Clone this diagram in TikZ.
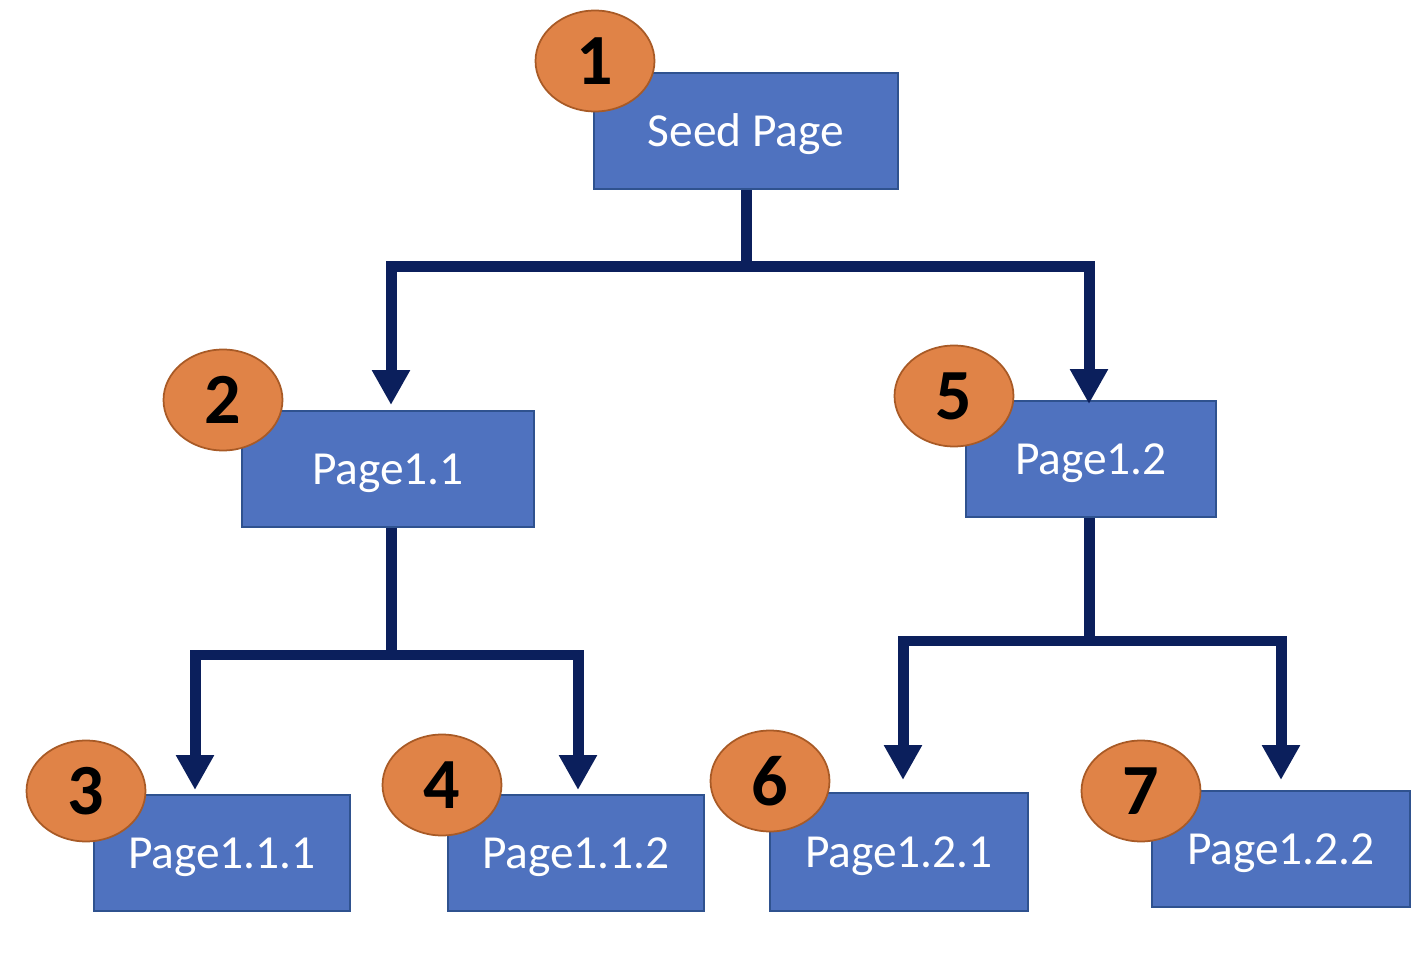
\documentclass[tikz,border=0pt]{standalone}
\usepackage{fontspec}
\setmainfont{Carlito}
\usetikzlibrary{arrows.meta,shapes.geometric}
\definecolor{boxblue}{HTML}{4F72BF}
\definecolor{boxedge}{HTML}{2F528F}
\definecolor{badgefill}{HTML}{E08347}
\definecolor{badgeedge}{HTML}{A85A26}
\definecolor{linknavy}{HTML}{0B1F5C}
\tikzset{
  pagebox/.style={draw=boxedge, fill=boxblue, line width=1.1pt, text=white,
    minimum height=2.32cm, inner sep=0pt, text height=0.8cm, text depth=0.19cm,
    font=\fontsize{27}{30}\selectfont},
  badge/.style={ellipse, draw=badgeedge, fill=badgefill, line width=1pt,
    minimum width=2.38cm, minimum height=2.02cm, inner sep=0pt,
    font=\fontsize{41}{44}\selectfont\bfseries},
  trunk/.style={draw=linknavy, line width=0.22cm},
  branch/.style={draw=linknavy, line width=0.22cm,
    -{Triangle[width=0.72cm, length=0.7cm]}},
}
\begin{document}
\begin{tikzpicture}[x=0.02cm, y=-0.02cm]
\useasboundingbox (0,0) rectangle (1428,976);
% page boxes
\node[pagebox, minimum width=6.08cm] (seed) at (746,131) {Seed Page};
\node[pagebox, minimum width=5.84cm] (p11) at (388,469) {Page1.1};
\node[pagebox, minimum width=5.00cm] (p12) at (1091,459) {Page1.2};
\node[pagebox, minimum width=5.12cm] (p111) at (222,853) {Page1.1.1};
\node[pagebox, minimum width=5.12cm] (p112) at (576,853) {Page1.1.2};
\node[pagebox, minimum width=5.16cm, minimum height=2.36cm] (p121) at (899,852) {Page1.2.1};
\node[pagebox, minimum width=5.16cm] (p122) at (1281,849) {Page1.2.2};
% junctions and arrow tips
\coordinate (j0) at (746,267);
\coordinate (j1) at (391,655);
\coordinate (j2) at (1089,641);
\coordinate (t11) at (391,405);
\coordinate (t12) at (1089,404);
\coordinate (t111) at (195,790);
\coordinate (t112) at (578,790);
\coordinate (t121) at (903,780);
\coordinate (t122) at (1281,780);
% links
\draw[trunk] (seed.south) -- (j0);
\draw[branch] (j0) -| (t11);
\draw[branch] (j0) -| (t12);
\draw[trunk] (p11.south -| j1) -- (j1);
\draw[branch] (j1) -| (t111);
\draw[branch] (j1) -| (t112);
\draw[trunk] (p12.south -| j2) -- (j2);
\draw[branch] (j2) -| (t121);
\draw[branch] (j2) -| (t122);
% crawl order badges
\node[badge] (b1) at (595,61) {1};
\node[badge] (b2) at (223,400) {2};
\node[badge] (b3) at (86,791) {3};
\node[badge] (b4) at (442,785) {4};
\node[badge] (b5) at (954,396) {5};
\node[badge] (b6) at (770,781) {6};
\node[badge] (b7) at (1141,791) {7};
\end{tikzpicture}
\end{document}
